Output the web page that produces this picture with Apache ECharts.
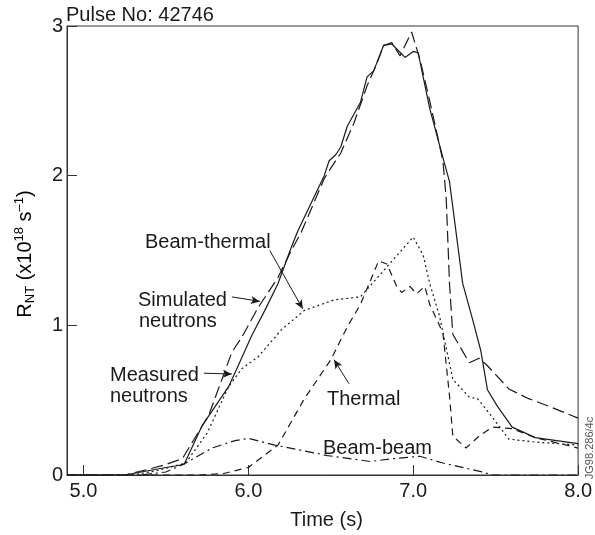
<!DOCTYPE html>
<html>
<head>
<meta charset="utf-8">
<script src="https://cdn.jsdelivr.net/npm/echarts@6/dist/echarts.min.js"></script>
<style>
  html, body { margin: 0; padding: 0; background: #fff; }
  #chart { width: 595px; height: 535px; }
</style>
</head>
<body>
<div id="chart"></div>
<script>
// tick labels
var xTicks = [5.0, 6.0, 7.0, 8.0];
var yTicks = [0, 1, 2, 3];

// Measured neutrons (solid)
var measuredTime = [4.9, 5.25, 5.4, 5.5, 5.61, 5.72, 5.88, 5.93, 6.02, 6.10, 6.18, 6.26, 6.30, 6.46, 6.49, 6.53, 6.56, 6.60, 6.68, 6.72, 6.76, 6.82, 6.87, 6.95, 7.00, 7.03, 7.10, 7.18, 7.22, 7.30, 7.36, 7.41, 7.45, 7.51, 7.60, 7.74, 8.0];
var measuredRate = [0, 0, 0.03, 0.05, 0.07, 0.33, 0.59, 0.71, 0.93, 1.10, 1.28, 1.52, 1.63, 2.00, 2.10, 2.14, 2.19, 2.33, 2.49, 2.66, 2.70, 2.87, 2.88, 2.79, 2.83, 2.82, 2.45, 2.12, 1.96, 1.28, 1.04, 0.83, 0.57, 0.46, 0.32, 0.25, 0.21];

// Simulated neutrons (long dash)
var simulatedTime = [4.9, 5.25, 5.4, 5.5, 5.60, 5.76, 5.90, 5.96, 6.06, 6.18, 6.26, 6.32, 6.46, 6.50, 6.56, 6.64, 6.72, 6.78, 6.82, 6.87, 6.92, 6.99, 7.04, 7.10, 7.18, 7.20, 7.22, 7.24, 7.34, 7.40, 7.45, 7.58, 7.70, 7.82, 8.0];
var simulatedRate = [0, 0, 0.04, 0.07, 0.11, 0.40, 0.82, 0.92, 1.12, 1.32, 1.50, 1.62, 1.98, 2.05, 2.15, 2.35, 2.60, 2.75, 2.87, 2.89, 2.80, 2.96, 2.78, 2.50, 2.10, 1.85, 1.28, 0.94, 0.75, 0.78, 0.73, 0.575, 0.51, 0.46, 0.38];

// Beam-thermal (dotted)
var beamThermalTime = [4.9, 5.3, 5.45, 5.62, 5.75, 5.88, 5.96, 6.06, 6.20, 6.34, 6.52, 6.68, 6.84, 7.00, 7.06, 7.10, 7.16, 7.24, 7.34, 7.39, 7.47, 7.58, 7.74, 8.0];
var beamThermalRate = [0, 0, 0.03, 0.08, 0.28, 0.59, 0.71, 0.79, 0.97, 1.10, 1.17, 1.19, 1.39, 1.59, 1.47, 1.28, 1.06, 0.64, 0.52, 0.51, 0.40, 0.24, 0.22, 0.20];

// Thermal (medium dash)
var thermalTime = [4.9, 5.7, 5.85, 6.0, 6.18, 6.34, 6.50, 6.60, 6.68, 6.79, 6.84, 6.90, 6.93, 6.98, 7.02, 7.07, 7.10, 7.18, 7.22, 7.24, 7.32, 7.40, 7.48, 7.60, 7.74, 8.0];
var thermalRate = [0, 0, 0.01, 0.05, 0.20, 0.51, 0.77, 0.99, 1.14, 1.43, 1.41, 1.26, 1.22, 1.26, 1.21, 1.26, 1.14, 0.95, 0.53, 0.26, 0.18, 0.26, 0.32, 0.31, 0.25, 0.18];

// Beam-beam (dash-dot)
var beamBeamTime = [4.9, 5.35, 5.5, 5.62, 5.78, 5.92, 6.0, 6.16, 6.48, 6.74, 6.88, 7.04, 7.18, 7.42, 7.48, 8.0];
var beamBeamRate = [0, 0, 0.02, 0.08, 0.18, 0.23, 0.245, 0.20, 0.13, 0.09, 0.11, 0.125, 0.08, 0.02, 0, 0];

// annotation arrows [from, to] in data units
var arrows = [
    [[6.13, 1.50], [6.33, 1.11]],   // Beam-thermal
    [[5.90, 1.19], [6.07, 1.16]],   // Simulated neutrons
    [[5.73, 0.68], [5.90, 0.675]],  // Measured neutrons
    [[6.61, 0.61], [6.52, 0.77]]    // Thermal
];

var FONT = '"Liberation Sans", Arial, sans-serif';
var INK = '#1a1a1a';

function pairs(t, v) {
    var out = [];
    for (var i = 0; i < t.length; i++) out.push([t[i], v[i]]);
    return out;
}

function lineSeries(name, t, v, dash) {
    return {
        name: name,
        type: 'line',
        data: pairs(t, v),
        showSymbol: false,
        symbol: 'none',
        smooth: false,
        silent: true,
        lineStyle: { color: INK, width: 1.2, type: dash }
    };
}

var chart = echarts.init(document.getElementById('chart'), null, { renderer: 'canvas' });

var series = [
    lineSeries('Measured neutrons', measuredTime, measuredRate, 'solid'),
    lineSeries('Simulated neutrons', simulatedTime, simulatedRate, [12, 5]),
    lineSeries('Beam-thermal', beamThermalTime, beamThermalRate, [2, 3]),
    lineSeries('Thermal', thermalTime, thermalRate, [7, 5]),
    lineSeries('Beam-beam', beamBeamTime, beamBeamRate, [9, 4, 2, 4])
];

series[0].markLine = {
    silent: true,
    symbol: ['none', 'arrow'],
    symbolSize: [6, 9],
    label: { show: false },
    lineStyle: { color: INK, width: 1, type: 'solid' },
    data: arrows.map(function (a) {
        return [{ coord: a[0] }, { coord: a[1] }];
    })
};

function txt(x, y, s, size) {
    return {
        type: 'text', x: x, y: y, silent: true,
        style: { text: s, font: (size || 20) + 'px ' + FONT, fill: INK, align: 'left', verticalAlign: 'middle' }
    };
}

var option = {
    animation: false,
    backgroundColor: '#fff',
    grid: { left: 67, right: 11, top: 26, bottom: 54, show: true, borderColor: '#333', borderWidth: 1 },
    xAxis: {
        type: 'value',
        min: 4.9,
        max: 8.0,
        name: 'Time (s)',
        nameLocation: 'middle',
        nameGap: 35,
        nameTextStyle: { fontFamily: FONT, fontSize: 20, color: INK, padding: [0, 0, 0, 8] },
        axisLine: { show: true, lineStyle: { color: '#333', width: 1 } },
        axisTick: { show: true, inside: true, length: 10, customValues: xTicks, lineStyle: { color: '#333' } },
        axisLabel: {
            customValues: xTicks, margin: 6,
            fontFamily: FONT, fontSize: 20, color: INK,
            formatter: function (v) { return v.toFixed(1); }
        },
        splitLine: { show: false }
    },
    yAxis: {
        type: 'value',
        min: 0,
        max: 3,
        interval: 1,
        axisLine: { show: true, lineStyle: { color: '#333', width: 1 } },
        axisTick: { show: true, inside: true, length: 10, customValues: yTicks, lineStyle: { color: '#333' } },
        axisLabel: { customValues: yTicks, margin: 4, fontFamily: FONT, fontSize: 20, color: INK },
        splitLine: { show: false }
    },
    graphic: [
        txt(66, 15, 'Pulse No: 42746'),
        txt(145, 242, 'Beam-thermal'),
        txt(138, 300, 'Simulated'),
        txt(139, 321, 'neutrons'),
        txt(110, 375, 'Measured'),
        txt(110, 396, 'neutrons'),
        txt(327, 399, 'Thermal'),
        txt(323, 448, 'Beam-beam'),
        {
            type: 'text', x: 590, y: 448, rotation: Math.PI / 2, silent: true,
            style: { text: 'JG98.286/4c', font: '11px ' + FONT, fill: '#555', align: 'center', verticalAlign: 'middle' }
        },
        {
            type: 'text', x: 25, y: 254, rotation: Math.PI / 2, silent: true,
            style: {
                text: '{a|R}{sub|NT}{a| (x10}{sup|18}{a| s}{sup|\u20131}{a|)}',
                align: 'center', verticalAlign: 'middle',
                rich: {
                    a: { fontFamily: FONT, fontSize: 20, color: INK, lineHeight: 24 },
                    sub: { fontFamily: FONT, fontSize: 13, color: INK, lineHeight: 13, verticalAlign: 'bottom' },
                    sup: { fontFamily: FONT, fontSize: 13, color: INK, lineHeight: 13, verticalAlign: 'top' }
                }
            }
        }
    ],
    series: series
};

chart.setOption(option);
</script>
</body>
</html>
